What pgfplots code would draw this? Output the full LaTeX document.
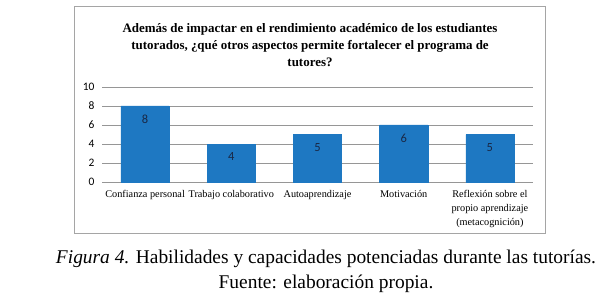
\documentclass[border=0pt]{standalone}
\usepackage{pgfplots}
\pgfplotsset{compat=1.18}
\usepackage{fontspec}
\setmainfont{Liberation Serif}
\newfontfamily\carlito{Carlito}
\definecolor{barblue}{RGB}{30,120,194}
\definecolor{labnavy}{RGB}{25,40,70}
\definecolor{gridgray}{RGB}{150,150,150}
\definecolor{framegray}{RGB}{165,165,165}
\begin{document}
\begin{tikzpicture}
\path[use as bounding box] (-102bp,-120bp) rectangle (510bp,182bp);
\draw[framegray, line width=0.8bp] (-28bp,-51bp) rectangle (443bp,176bp);
\node[align=center, font=\fontsize{13}{17}\selectfont\bfseries] at (208bp,137bp)
  {Además de impactar en el rendimiento académico de los estudiantes\\
   tutorados, ¿qué otros aspectos permite fortalecer el programa de\\
   tutores?};
\begin{axis}[
  at={(0,0)}, anchor=south west,
  scale only axis, width=431bp, height=95bp,
  xmin=-0.5, xmax=4.5, ymin=0, ymax=10,
  ytick={0,2,4,6,8,10},
  xtick=data,
  xticklabels={Confianza personal, Trabajo colaborativo, Autoaprendizaje, Motivación, {Reflexión sobre el\\propio aprendizaje\\(metacognición)}},
  xticklabel style={align=center, font=\fontsize{10.3}{14}\selectfont, yshift=-5bp},
  yticklabel style={font=\carlito\fontsize{11.5}{12}\selectfont, xshift=-4bp},
  /pgf/number format/assume math mode=true,
  ymajorgrids, grid style={gridgray, line width=0.6bp},
  axis lines*=left,
  y axis line style={draw=none},
  x axis line style={gridgray, line width=0.8bp, -},
  major tick length=0pt,
  ytick style={draw=none}, xtick style={draw=none},
  ybar, bar width=0.56,
  nodes near coords,
  every node near coord/.append style={anchor=center, yshift=-13bp, text=labnavy, font=\carlito\fontsize{12.5}{13}\selectfont},
  clip=false,
]
\addplot[fill=barblue, draw=barblue] coordinates {(0,8) (1,4) (2,5) (3,6) (4,5)};
\end{axis}
\node[align=center, font=\fontsize{19.5}{25}\selectfont] at (224bp,-89bp)
  {\textit{Figura 4.} Habilidades y capacidades potenciadas durante las tutorías.\\
   Fuente: elaboración propia.};
\end{tikzpicture}
\end{document}
